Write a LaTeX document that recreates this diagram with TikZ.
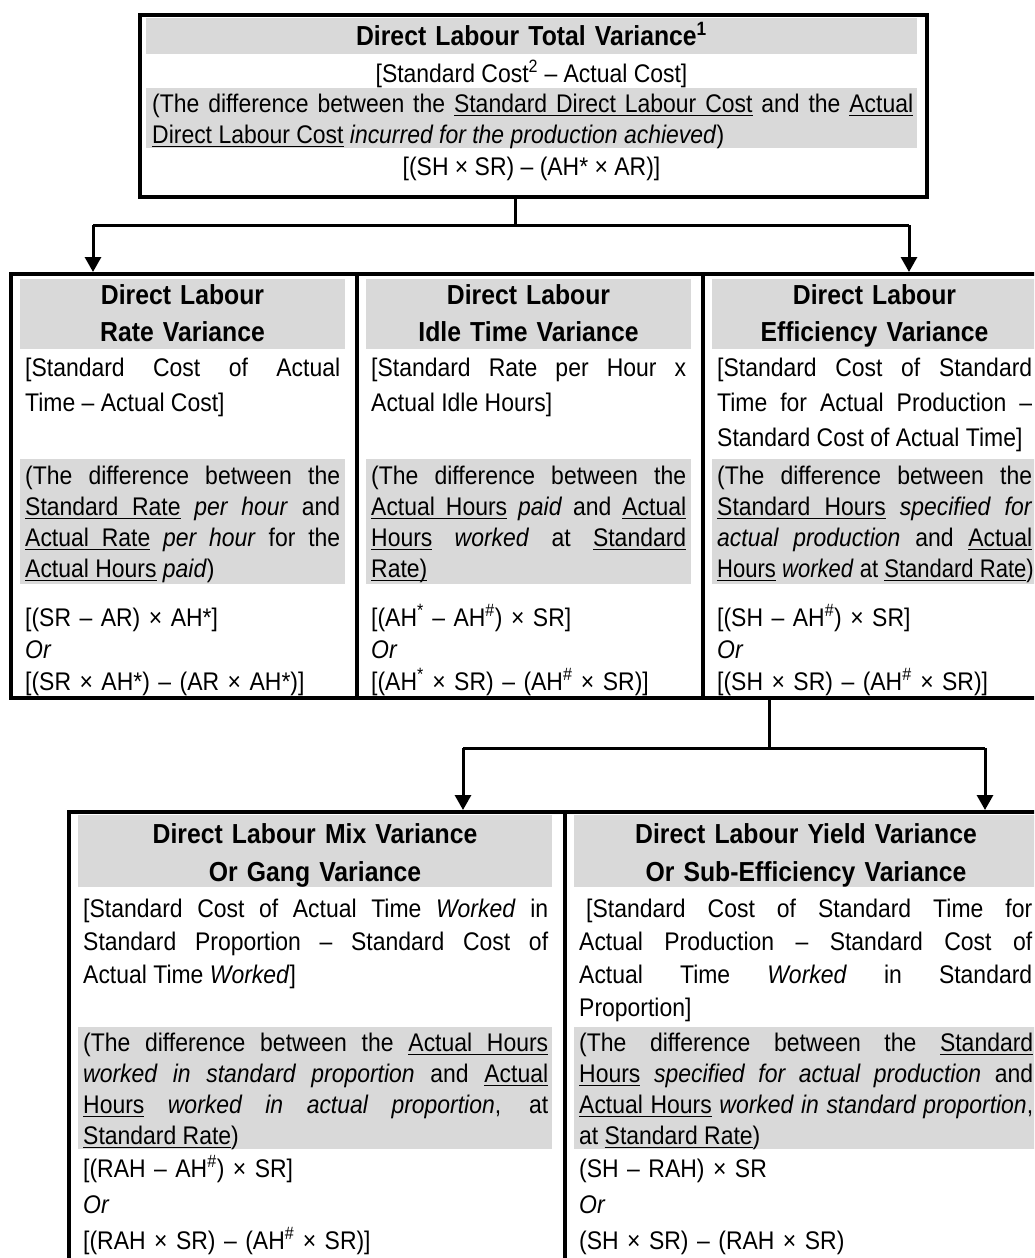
\documentclass[tikz,border=0pt]{standalone}
\usepackage{fontspec}
\setmainfont{Liberation Sans}[FakeStretch=0.9]
\usetikzlibrary{arrows.meta}
\definecolor{bandgray}{RGB}{217,217,217}
\hyphenpenalty=10000
\exhyphenpenalty=10000
\tolerance=10000
\hbadness=10000

% underlined words; spaces between underlined words stay stretchable
\newsavebox{\undlbox}
\newcommand{\undlword}[1]{\sbox{\undlbox}{#1}\rlap{\rule[-4.4pt]{\wd\undlbox}{1.4pt}}\usebox{\undlbox}}
\newcommand{\uspace}{\leaders\hrule height -3.0pt depth 4.4pt\hskip\fontdimen2\font plus\fontdimen3\font minus\fontdimen4\font\relax}
\makeatletter
\def\undl#1{\undl@a#1 \@nil}
\def\undl@a#1 #2\@nil{\undlword{#1}\ifx\relax#2\relax\else\uspace\undl@a#2\@nil\fi}
\makeatother

\tikzset{
  cell/.style={draw, line width=4pt, inner sep=0pt, anchor=north west},
  band/.style={fill=bandgray},
  conn/.style={line width=3pt},
  arr/.style={line width=3pt, -{Triangle[width=16pt,length=15pt]}},
  head/.style={anchor=base, inner sep=0pt, align=center, text width=#1,
    font=\fontsize{27.5}{37}\selectfont\bfseries},
  bodytxt/.style={anchor=base west, inner sep=0pt, text width=#1, align=justify,
    font=\fontsize{25.5}{35}\selectfont},
  greytxt/.style={anchor=base west, inner sep=0pt, text width=#1, align=justify,
    font=\fontsize{25.5}{31}\selectfont},
  formtxt/.style={anchor=base west, inner sep=0pt, text width=#1, align=left,
    font=\fontsize{25.5}{32}\selectfont},
  centtxt/.style={anchor=base, inner sep=0pt, font=\fontsize{25.5}{30}\selectfont},
}

\begin{document}
\begin{tikzpicture}[x=1pt,y=-1pt]
\useasboundingbox (0,0) rectangle (1034,1258);
\clip (0,0) rectangle (1034,1258);

% ---------- total variance ----------
\fill[band] (146,18) rectangle (917,54);
\fill[band] (146,88) rectangle (917,148);
\node[cell, minimum width=787pt, minimum height=182pt] (total) at (138,13) {};
\node[head=760pt] (totalHead) at (531.5,45) {Direct Labour Total Variance\textsuperscript{1}};
\node[centtxt] (totalStd) at (531.5,82) {[Standard Cost\textsuperscript{2} – Actual Cost]};
\node[greytxt=761pt] (totalDiff) at (152,112)
  {(The difference between the \undl{Standard Direct Labour Cost} and the \undl{Actual}\linebreak
   \undl{Direct Labour Cost} \textit{incurred for the production achieved})};
\node[centtxt] (totalForm) at (531.5,175) {[(SH × SR) – (AH* × AR)]};

% ---------- second level ----------
\fill[band] (20,279) rectangle (345,349);
\fill[band] (366,279) rectangle (691,349);
\fill[band] (712,279) rectangle (1037,349);
\fill[band] (20,459) rectangle (345,584);
\fill[band] (366,459) rectangle (691,584);
\fill[band] (712,459) rectangle (1037,584);

\node[cell, minimum width=346pt, minimum height=424pt] (rate) at (9,272) {};
\node[cell, minimum width=346pt, minimum height=424pt] (idle) at (355,272) {};
\node[cell, minimum width=346pt, minimum height=424pt] (eff) at (701,272) {};

% rate variance
\node[head=315pt] (rateHead) at (182.5,304) {Direct Labour\\Rate Variance};
\node[bodytxt=315pt] (rateBody) at (25,376)
  {[Standard Cost of Actual\linebreak Time – Actual Cost]};
\node[greytxt=315pt] (rateDiff) at (25,484)
  {(The difference between the\linebreak
   \undl{Standard Rate} \textit{per hour} and\linebreak
   \undl{Actual Rate} \textit{per hour} for the\linebreak
   \undl{Actual Hours} \textit{paid})};
\node[formtxt=315pt] (rateForm) at (25,626)
  {[(SR – AR) × AH*]\\{}\textit{Or}\\{}[(SR × AH*) – (AR × AH*)]};

% idle time variance
\node[head=315pt] (idleHead) at (528.5,304) {Direct Labour\\Idle Time Variance};
\node[bodytxt=315pt] (idleBody) at (371,376)
  {[Standard Rate per Hour x\linebreak Actual Idle Hours]};
\node[greytxt=315pt] (idleDiff) at (371,484)
  {(The difference between the\linebreak
   \undl{Actual Hours} \textit{paid} and \undl{Actual}\linebreak
   \undl{Hours} \textit{worked} at \undl{Standard}\linebreak
   \undl{Rate)}};
\node[formtxt=315pt] (idleForm) at (371,626)
  {[(AH\textsuperscript{*} – AH\textsuperscript{\#}) × SR]\\{}\textit{Or}\\{}[(AH\textsuperscript{*} × SR) – (AH\textsuperscript{\#} × SR)]};

% efficiency variance
\node[head=315pt] (effHead) at (874.5,304) {Direct Labour\\Efficiency Variance};
\node[bodytxt=315pt] (effBody) at (717,376)
  {[Standard Cost of Standard\linebreak
   Time for Actual Production –\linebreak
   Standard Cost of Actual Time]};
\node[greytxt=315pt] (effDiff) at (717,484)
  {(The difference between the\linebreak
   \undl{Standard Hours} \textit{specified for}\linebreak
   \textit{actual production} and \undl{Actual}\linebreak
   \scalebox{0.96}[1]{\undl{Hours} \textit{worked} at \undl{Standard Rate})}};
\node[formtxt=315pt] (effForm) at (717,626)
  {[(SH – AH\textsuperscript{\#}) × SR]\\{}\textit{Or}\\{}[(SH × SR) – (AH\textsuperscript{\#} × SR)]};

% ---------- third level ----------
\fill[band] (78,815) rectangle (552,887);
\fill[band] (574,815) rectangle (1036,887);
\fill[band] (78,1027) rectangle (552,1149);
\fill[band] (574,1027) rectangle (1036,1149);

\node[cell, minimum width=496pt, minimum height=470pt] (mix) at (67,810) {};
\node[cell, minimum width=484pt, minimum height=470pt] (yield) at (563,810) {};

% mix variance
\node[head=465pt, font=\fontsize{27.5}{38}\selectfont\bfseries] (mixHead) at (315,843)
  {Direct Labour Mix Variance\\Or Gang Variance};
\node[bodytxt=465pt, font=\fontsize{25.5}{33}\selectfont] (mixBody) at (83,917)
  {[Standard Cost of Actual Time \textit{Worked} in\linebreak
   Standard Proportion – Standard Cost of\linebreak
   Actual Time \textit{Worked}]};
\node[greytxt=465pt] (mixDiff) at (83,1051)
  {(The difference between the \undl{Actual Hours}\linebreak
   \textit{worked in standard proportion} and \undl{Actual}\linebreak
   \undl{Hours} \textit{worked in actual proportion}, at\linebreak
   \undl{Standard Rate})};
\node[formtxt=465pt, font=\fontsize{25.5}{36}\selectfont] (mixForm) at (83,1177)
  {[(RAH – AH\textsuperscript{\#}) × SR]\\{}\textit{Or}\\{}[(RAH × SR) – (AH\textsuperscript{\#} × SR)]};

% yield variance
\node[head=455pt, font=\fontsize{27.5}{38}\selectfont\bfseries] (yieldHead) at (806,843)
  {Direct Labour Yield Variance\\Or Sub-Efficiency Variance};
\node[bodytxt=453pt, font=\fontsize{25.5}{33}\selectfont] (yieldBody) at (579,917)
  {\hspace*{7pt}[Standard Cost of Standard Time for\linebreak
   Actual Production – Standard Cost of\linebreak
   Actual Time \textit{Worked} in Standard\linebreak
   Proportion]};
\node[greytxt=454pt] (yieldDiff) at (579,1051)
  {(The difference between the \undl{Standard}\linebreak
   \undl{Hours} \textit{specified for actual production} and\linebreak
   \undl{Actual Hours} \textit{worked in standard proportion},\linebreak
   at \undl{Standard Rate})};
\node[formtxt=454pt, font=\fontsize{25.5}{36}\selectfont] (yieldForm) at (579,1177)
  {(SH – RAH) × SR\\{}\textit{Or}\\{}(SH × SR) – (RAH × SR)};

% ---------- connectors ----------
\coordinate (j1) at (515,225);
\coordinate (a1) at (93,225);
\coordinate (a3) at (909,225);
\draw[conn] (total.south -| j1) -- (j1);
\draw[conn] (a1) -- (a3);
\draw[arr] (a1) -- (a1 |- rate.north);
\draw[arr] (a3) -- (a3 |- eff.north);

\coordinate (j2) at (769,748);
\coordinate (b1) at (463,748);
\coordinate (b2) at (985,748);
\draw[conn] (eff.south -| j2) -- (j2);
\draw[conn] (b1) -- (b2);
\draw[arr] (b1) -- (b1 |- mix.north);
\draw[arr] (b2) -- (b2 |- yield.north);
\end{tikzpicture}
\end{document}
